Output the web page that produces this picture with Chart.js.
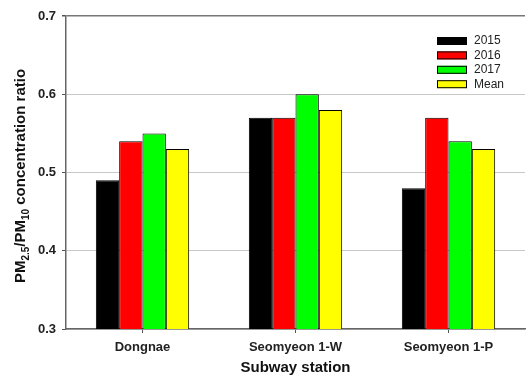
<!DOCTYPE html>
<html>
<head>
<meta charset="utf-8">
<script src="https://cdn.jsdelivr.net/npm/chart.js@4"></script>
<style>
  html, body { margin: 0; padding: 0; background: #fff; }
</style>
</head>
<body>
<canvas id="ratioChart" width="526" height="379"></canvas>
<script>
const stations = ["Dongnae", "Seomyeon 1-W", "Seomyeon 1-P"];
const y2015 = [0.49, 0.57, 0.48];
const y2016 = [0.54, 0.57, 0.57];
const y2017 = [0.55, 0.60, 0.54];
const yMean = [0.53, 0.58, 0.53];
const seriesNames = ["2015", "2016", "2017", "Mean"];
const yTicks = [0.3, 0.4, 0.5, 0.6, 0.7];

const fontFam = "'Liberation Sans', Arial, sans-serif";

// y axis title with subscripts, and legend inside the plot
const extras = {
  id: 'extras',
  afterDraw(chart){
    const ctx = chart.ctx;
    const area = chart.chartArea;

    // y title
    const parts = [
      ["PM", 15, 0], ["2.5", 10, 4], ["/PM", 15, 0], ["10", 10, 4], [" concentration ratio", 15, 0]
    ];
    ctx.save();
    let total = 0;
    parts.forEach(p => { ctx.font = "bold " + p[1] + "px " + fontFam; total += ctx.measureText(p[0]).width; });
    ctx.translate(25, 176);
    ctx.rotate(-Math.PI / 2);
    ctx.fillStyle = "#111";
    ctx.textBaseline = "alphabetic";
    let x = -total / 2;
    parts.forEach(p => {
      ctx.font = "bold " + p[1] + "px " + fontFam;
      ctx.fillText(p[0], x, p[2]);
      x += ctx.measureText(p[0]).width;
    });
    ctx.restore();

    // legend
    ctx.save();
    ctx.font = "12px " + fontFam;
    ctx.textBaseline = "middle";
    chart.data.datasets.forEach((ds, i) => {
      const cy = 41 + i * 14.4;
      ctx.fillStyle = ds.backgroundColor;
      ctx.fillRect(437, cy - 4, 30, 8);
      ctx.strokeStyle = "#000";
      ctx.lineWidth = 1;
      ctx.strokeRect(437.5, cy - 3.5, 29, 7);
      ctx.fillStyle = "#222";
      ctx.fillText(ds.label, 474, cy);
    });
    ctx.restore();
  }
};

new Chart("ratioChart", {
  type: "bar",
  data: {
    labels: stations,
    datasets: [
      { label: seriesNames[0], data: y2015, backgroundColor: "#000000" },
      { label: seriesNames[1], data: y2016, backgroundColor: "#ff0000" },
      { label: seriesNames[2], data: y2017, backgroundColor: "#00ff00" },
      { label: seriesNames[3], data: yMean, backgroundColor: "#ffff00" }
    ]
  },
  options: {
    responsive: false,
    animation: false,
    devicePixelRatio: 1,
    layout: { padding: { top: 16, right: 1, left: 0, bottom: 0 } },
    datasets: {
      bar: {
        borderColor: "#000",
        borderWidth: 1,
        categoryPercentage: 0.61,
        barPercentage: 1.0
      }
    },
    plugins: {
      legend: { display: false },
      tooltip: { enabled: false }
    },
    scales: {
      x: {
        grid: {
          offset: false,
          drawOnChartArea: false,
          drawTicks: true,
          tickLength: 4,
          color: "#555"
        },
        border: { color: "#666", width: 1.5 },
        ticks: {
          color: "#222",
          padding: 7,
          font: { family: fontFam, size: 13, weight: "bold" },
          maxRotation: 0
        },
        title: {
          display: true,
          text: "Subway station",
          color: "#111",
          padding: { top: 0, bottom: 2 },
          font: { family: fontFam, size: 15, weight: "bold" }
        },
        afterFit(scale){ scale.height = 50; }
      },
      y: {
        min: yTicks[0],
        max: yTicks[yTicks.length - 1],
        afterBuildTicks(scale){ scale.ticks = yTicks.map(v => ({ value: v })); },
        grid: {
          color(c){
            if (c.tick && Math.abs(c.tick.value - 0.7) < 1e-6) return "#777";
            return "#c8c8c8";
          },
          lineWidth(c){
            if (c.tick && Math.abs(c.tick.value - 0.7) < 1e-6) return 1.5;
            return 1;
          },
          tickColor: "#555",
          tickLength: 4
        },
        border: { color: "#666", width: 1.5 },
        ticks: {
          color: "#222",
          padding: 6,
          font: { family: fontFam, size: 13, weight: "bold" },
          callback(v){ return Number(v).toFixed(1); }
        },
        afterFit(scale){ scale.width = 66; }
      }
    }
  },
  plugins: [extras]
});
</script>
</body>
</html>
